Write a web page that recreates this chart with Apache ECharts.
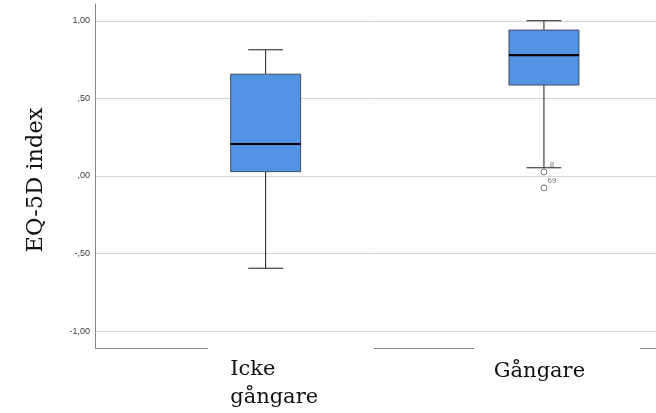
<!DOCTYPE html>
<html>
<head>
<meta charset="utf-8">
<script src="https://cdn.jsdelivr.net/npm/echarts@6/dist/echarts.min.js"></script>
<style>
  html, body { margin: 0; padding: 0; background: #fff; }
  #chart { width: 656px; height: 413px; }
</style>
</head>
<body>
<div id="chart"></div>
<script>
// ---- Data ----
var categories = ['Icke gångare', 'Gångare'];
var minValues = [-0.594, 0.053];
var q1Values = [0.028, 0.586];
var medianValues = [0.206, 0.779];
var q3Values = [0.656, 0.940];
var maxValues = [0.813, 1.000];

var outlierCategories = ['Gångare', 'Gångare'];
var outlierValues = [0.026, -0.076];
var outlierLabels = ['8', '69'];

var yTickValues = [-1, -0.5, 0, 0.5, 1];
var yTickLabels = ['-1,00', '-,50', ',00', ',50', '1,00'];
var yAxisTitle = 'EQ-5D index';

// ---- Build ----
var boxData = categories.map(function (c, i) {
  return [i, minValues[i], q1Values[i], medianValues[i], q3Values[i], maxValues[i]];
});
var outlierData = outlierValues.map(function (v, i) {
  return { value: [outlierCategories[i], v], label: { formatter: outlierLabels[i] } };
});

var serif = 'Georgia, "DejaVu Serif", serif';
var sans = 'Arial, "Liberation Sans", sans-serif';
var Y_MIN = -1.108, Y_MAX = 1.108;

var chart = echarts.init(document.getElementById('chart'), null, { renderer: 'canvas' });

chart.setOption({
  animation: false,
  backgroundColor: '#ffffff',
  grid: [
    { left: 95, right: 0, top: 4, bottom: 65, outerBoundsMode: 'none', containLabel: false },
    { left: 126.5, width: 556.6, top: 4, bottom: 65, outerBoundsMode: 'none', containLabel: false }
  ],
  xAxis: [
    { gridIndex: 0, type: 'value', min: 0, max: 1, show: false },
    {
      gridIndex: 1, type: 'category', boundaryGap: true,
      data: [
        { value: categories[0], textStyle: { padding: [0, 0, 0, 17] } },
        { value: categories[1], textStyle: { padding: [2, 9, 0, 0] } }
      ],
      axisLine: { show: false }, axisTick: { show: false }, splitLine: { show: false },
      axisLabel: {
        show: true, interval: 0, margin: 8,
        color: '#111', fontFamily: serif, fontSize: 21, lineHeight: 28,
        formatter: function (v) {
          return v.split(' ').map(function (w) { return '{a|' + w + '}'; }).join('\n');
        },
        rich: { a: { fontFamily: serif, fontSize: 21, lineHeight: 28, color: '#111', align: 'left' } }
      }
    }
  ],
  yAxis: [
    {
      gridIndex: 0, type: 'value', min: Y_MIN, max: Y_MAX,
      name: yAxisTitle, nameLocation: 'middle', nameRotate: 90, nameGap: 47,
      nameTextStyle: { fontFamily: serif, fontSize: 22.5, color: '#111', padding: [0, 8, 0, 0] },
      axisLine: { show: true, lineStyle: { color: '#888', width: 1 } },
      axisTick: { show: false, customValues: yTickValues },
      axisLabel: {
        show: true, customValues: yTickValues, margin: 5,
        color: '#3a3a3a', fontFamily: sans, fontSize: 9, padding: [6, 0, 0, 0],
        formatter: function (v) {
          for (var i = 0; i < yTickValues.length; i++) {
            if (Math.abs(yTickValues[i] - v) < 1e-6) return yTickLabels[i];
          }
          return '';
        }
      },
      splitLine: { show: true, lineStyle: { color: '#d5d5d5', width: 1 } }
    },
    { gridIndex: 1, type: 'value', min: Y_MIN, max: Y_MAX, show: false, splitLine: { show: false } }
  ],
  series: [
    {
      type: 'custom',
      xAxisIndex: 1, yAxisIndex: 1,
      data: boxData,
      encode: { x: 0, y: [1, 2, 3, 4, 5] },
      renderItem: function (params, api) {
        var idx = api.value(0);
        var pMin = api.coord([idx, api.value(1)]);
        var pQ1 = api.coord([idx, api.value(2)]);
        var pMed = api.coord([idx, api.value(3)]);
        var pQ3 = api.coord([idx, api.value(4)]);
        var pMax = api.coord([idx, api.value(5)]);
        var band = api.size([1, 0])[0];
        var bw = band * 0.2515;
        var cw = band * 0.125;
        var x = pMed[0];
        var wStyle = { stroke: '#1e1e1e', lineWidth: 1 };
        return {
          type: 'group',
          children: [
            { type: 'line', shape: { x1: x, y1: pMax[1], x2: x, y2: pQ3[1] }, style: wStyle },
            { type: 'line', shape: { x1: x, y1: pQ1[1], x2: x, y2: pMin[1] }, style: wStyle },
            { type: 'line', shape: { x1: x - cw / 2, y1: pMax[1], x2: x + cw / 2, y2: pMax[1] }, style: wStyle },
            { type: 'line', shape: { x1: x - cw / 2, y1: pMin[1], x2: x + cw / 2, y2: pMin[1] }, style: wStyle },
            { type: 'rect', shape: { x: x - bw / 2, y: pQ3[1], width: bw, height: pQ1[1] - pQ3[1] },
              style: { fill: '#5391e2', stroke: '#43505f', lineWidth: 1 } },
            { type: 'line', shape: { x1: x - bw / 2, y1: pMed[1], x2: x + bw / 2, y2: pMed[1] },
              style: { stroke: '#000', lineWidth: 2.2 } }
          ]
        };
      }
    },
    {
      type: 'scatter',
      xAxisIndex: 1, yAxisIndex: 1,
      symbol: 'circle', symbolSize: 6,
      itemStyle: { color: '#ffffff', borderColor: '#555', borderWidth: 1 },
      label: {
        show: true, position: 'inside', offset: [8, -7.5],
        fontFamily: sans, fontSize: 8, color: '#555'
      },
      data: outlierData
    }
  ],
  graphic: [
    { type: 'line', silent: true, shape: { x1: 95, y1: 348.5, x2: 208, y2: 348.5 }, style: { stroke: '#888', lineWidth: 1 } },
    { type: 'line', silent: true, shape: { x1: 374, y1: 348.5, x2: 474, y2: 348.5 }, style: { stroke: '#888', lineWidth: 1 } },
    { type: 'line', silent: true, shape: { x1: 640, y1: 348.5, x2: 656, y2: 348.5 }, style: { stroke: '#888', lineWidth: 1 } }
  ]
});
</script>
</body>
</html>
